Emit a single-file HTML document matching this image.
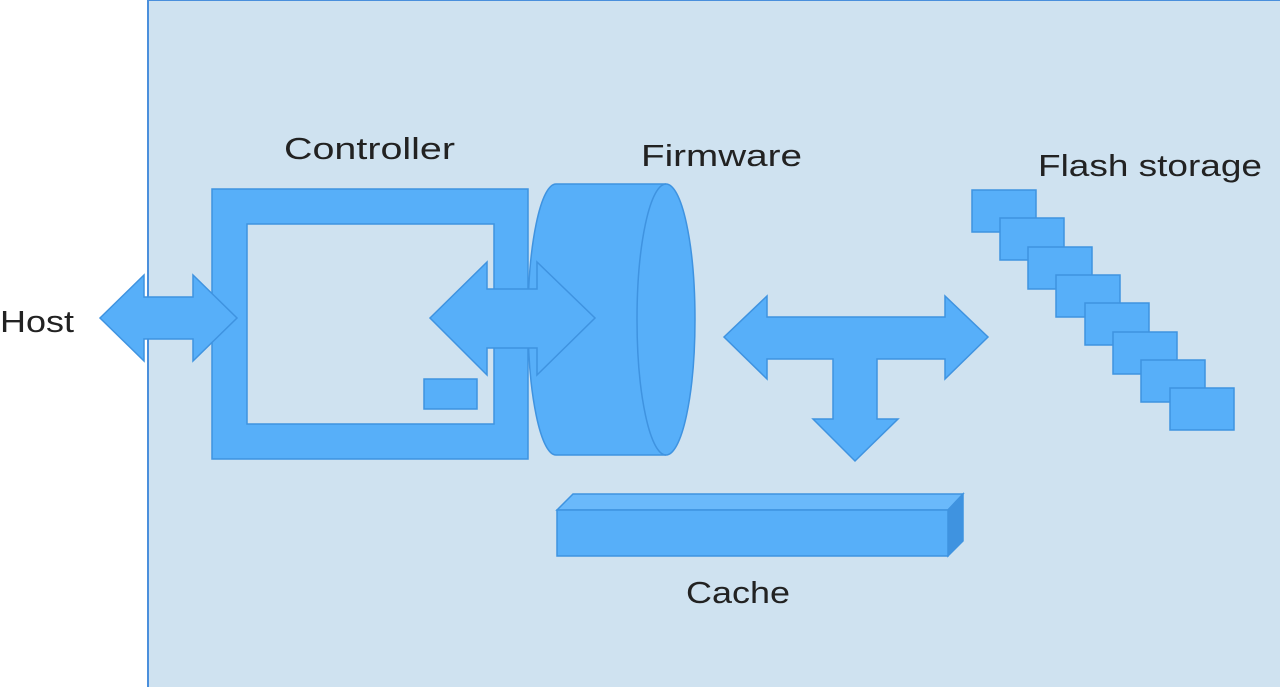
<!DOCTYPE html>
<html><head><style>html,body{margin:0;padding:0;background:#fff;}svg{display:block}</style></head>
<body>
<svg width="1280" height="687" viewBox="0 0 1280 687" xmlns="http://www.w3.org/2000/svg">
<rect x="148" y="0" width="1140" height="690" fill="#cfe2f0" stroke="#4a8fdc" stroke-width="2"/>
<g fill="#57aff9" stroke="#3f93e0" stroke-width="1.5">
<!-- controller frame -->
<path d="M212 189H528V459H212Z M247 224V424H494V224Z" fill-rule="evenodd"/>
<rect x="424" y="379" width="53" height="30"/>
<!-- cylinder -->
<path d="M556 184H666A29 135.5 0 0 1 666 455H556A28 135.5 0 0 1 556 184Z"/>
<path d="M666 184A29 135.5 0 0 0 666 455" fill="none"/>
<!-- host arrow -->
<path d="M100 318L144 275V297H193V275L237 318L193 361V339H144V361Z"/>
<!-- inner arrow -->
<path d="M430 318L487 262V289H537V262L595 318L537 375V348H487V375Z"/>
<!-- T arrow -->
<path d="M724 337L767 296V317H945V296L988 337L945 379V359H877V419H898L855 461L813 419H833V359H767V379Z"/>
<!-- cache -->
<path d="M557 510L573 494H963L948 510Z" fill="#6ab9fb"/>
<path d="M948 510L963 494V541L948 556Z" fill="#3f93e0"/>
<rect x="557" y="510" width="391" height="46"/>
<!-- flash -->
<rect x="972" y="190" width="64" height="42"/>
<rect x="1000" y="218" width="64" height="42"/>
<rect x="1028" y="247" width="64" height="42"/>
<rect x="1056" y="275" width="64" height="42"/>
<rect x="1085" y="303" width="64" height="42"/>
<rect x="1113" y="332" width="64" height="42"/>
<rect x="1141" y="360" width="64" height="42"/>
<rect x="1170" y="388" width="64" height="42"/>
</g>
<g font-family="Liberation Sans, sans-serif" font-size="31" fill="#222">
<text x="284" y="159" textLength="171" lengthAdjust="spacingAndGlyphs">Controller</text>
<text x="641" y="166" textLength="161" lengthAdjust="spacingAndGlyphs">Firmware</text>
<text x="1038" y="176" textLength="224" lengthAdjust="spacingAndGlyphs">Flash storage</text>
<text x="0" y="332" textLength="74" lengthAdjust="spacingAndGlyphs">Host</text>
<text x="686" y="603" textLength="104" lengthAdjust="spacingAndGlyphs">Cache</text>
</g>
</svg>
</body></html>
